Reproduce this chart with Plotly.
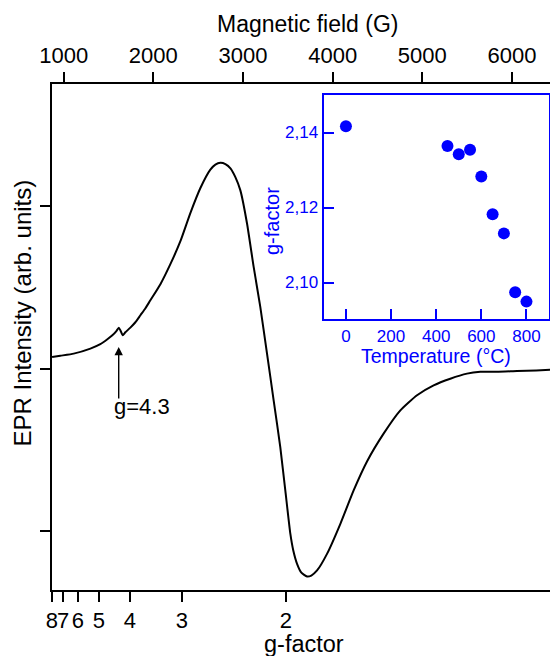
import plotly.graph_objects as go

# ---- EPR spectrum ----
field_G = [871, 963, 1112, 1298, 1409, 1484, 1543, 1588, 1615, 1632, 1658, 1688, 1744,
           1800, 1856, 1912, 1967, 2079, 2190, 2302, 2413, 2525, 2636, 2692, 2748, 2804,
           2860, 2915, 2970, 3045, 3119, 3193, 3268, 3342, 3416, 3472, 3528, 3561, 3603,
           3651, 3714, 3762, 3826, 3937, 4086, 4234, 4383, 4568, 4755, 4941, 5126, 5312,
           5498, 5647, 5833, 6056, 6271, 6502]
intensity = [0.071, 0.079, 0.092, 0.123, 0.150, 0.179, 0.205, 0.231, 0.251, 0.236, 0.205,
             0.223, 0.252, 0.285, 0.328, 0.371, 0.420, 0.519, 0.642, 0.783, 0.956, 1.110,
             1.223, 1.254, 1.265, 1.257, 1.231, 1.177, 1.097, 0.892, 0.625, 0.379, 0.092,
             -0.195, -0.483, -0.749, -1.015, -1.118, -1.200, -1.254, -1.278, -1.272, -1.241,
             -1.139, -0.954, -0.749, -0.571, -0.400, -0.257, -0.164, -0.103, -0.062, -0.031,
             -0.020, -0.020, -0.015, -0.011, -0.004]

# ---- axes ----
field_ticks = [1000, 2000, 3000, 4000, 5000, 6000]
field_labels = ["1000", "2000", "3000", "4000", "5000", "6000"]
g_ticks = [8, 7, 6, 5, 4, 3, 2]
g_labels = ["8", "7", "6", "5", "4", "3", "2"]
intensity_ticks = [-1, 0, 1]
freq_GHz = 9.74           # microwave frequency -> g = h*nu/(muB*B)
K = 714.477 * freq_GHz    # B[G] = K / g
g_pos = [K / g for g in g_ticks]

# ---- inset: g-factor vs temperature ----
temperature_C = [0, 450, 500, 550, 600, 650, 700, 750, 800]
g_factor = [2.1417, 2.1364, 2.1342, 2.1354, 2.1283, 2.1182, 2.1131, 2.0974, 2.0949]
inset_x_ticks = [0, 200, 400, 600, 800]
inset_y_ticks = [2.10, 2.12, 2.14]
inset_y_labels = ["2,10", "2,12", "2,14"]

# annotation: g=4.3 feature
g43_field = 1614
g43_int = 0.133
g43_text_field = 1874
g43_text_int = -0.236

BLUE = "#0000FF"
FONT = "Arial, Liberation Sans, sans-serif"

fig = go.Figure()
fig.add_trace(go.Scatter(x=field_G, y=intensity, mode="lines",
                         line=dict(color="black", width=2, shape="spline", smoothing=0.5),
                         xaxis="x", yaxis="y", showlegend=False, hoverinfo="skip"))
# invisible trace to activate bottom g-factor axis
fig.add_trace(go.Scatter(x=[field_G[0]], y=[intensity[0]], mode="markers",
                         marker=dict(opacity=0), xaxis="x2", yaxis="y",
                         showlegend=False, hoverinfo="skip"))
fig.add_trace(go.Scatter(x=temperature_C, y=g_factor, mode="markers",
                         marker=dict(color=BLUE, size=12),
                         xaxis="x3", yaxis="y3", showlegend=False))

x_range = [870, 6502]
# page body has an 8px default margin -> figure is 8px smaller and margins shifted
fig.update_layout(
    width=550, height=648,
    margin=dict(l=44, r=1, t=76, b=66),
    paper_bgcolor="white", plot_bgcolor="white",
    font=dict(family=FONT, color="black", size=22),
    xaxis=dict(side="top", range=x_range, tickvals=field_ticks, ticktext=field_labels,
               ticks="outside", ticklen=10, tickwidth=1.5, tickcolor="black",
               showline=True, linecolor="black", linewidth=2, showgrid=False, zeroline=False,
               tickfont=dict(size=22), tickangle=0, automargin=False, anchor="y"),
    xaxis2=dict(overlaying="x", side="bottom", range=x_range, tickvals=g_pos, ticktext=g_labels,
                ticks="outside", ticklen=10, tickwidth=1.5, tickcolor="black",
                showline=True, linecolor="black", linewidth=2, showgrid=False, zeroline=False,
                tickfont=dict(size=22), tickangle=0, automargin=False, anchor="y"),
    yaxis=dict(range=[-1.361, 1.7495], tickvals=intensity_ticks, showticklabels=False,
               ticks="outside", ticklen=10, tickwidth=1.5, tickcolor="black",
               showline=True, mirror=True, linecolor="black", linewidth=2,
               showgrid=False, zeroline=False, automargin=False),
    xaxis3=dict(domain=[0.5378, 0.9842], anchor="y3", range=[-99, 900],
                tickvals=inset_x_ticks, ticks="inside", ticklen=10, tickwidth=1.5,
                tickcolor=BLUE, showline=True, mirror=True, linecolor=BLUE, linewidth=2,
                showgrid=False, zeroline=False, tickangle=0, automargin=False,
                tickfont=dict(size=17, color=BLUE)),
    yaxis3=dict(domain=[0.5351, 0.9782], anchor="x3", range=[2.0902, 2.150],
                tickvals=inset_y_ticks, ticktext=inset_y_labels,
                ticks="inside", ticklen=10, tickwidth=1.5, tickcolor=BLUE,
                showline=True, mirror=True, linecolor=BLUE, linewidth=2,
                showgrid=False, zeroline=False, automargin=False,
                tickfont=dict(size=17, color=BLUE)),
    annotations=[
        # axis titles
        dict(x=0.507, y=1.1186, xref="paper", yref="paper", text="Magnetic field (G)",
             showarrow=False, font=dict(size=23), xanchor="center", yanchor="middle"),
        dict(x=0.499, y=-0.1060, xref="paper", yref="paper", text="g-factor",
             showarrow=False, font=dict(size=23.5), xanchor="center", yanchor="middle"),
        dict(x=-0.0584, y=0.5474, xref="paper", yref="paper", text="EPR Intensity (arb. units)",
             showarrow=False, font=dict(size=24), textangle=-90,
             xanchor="center", yanchor="middle"),
        dict(x=0.4356, y=0.7292, xref="paper", yref="paper", text="g-factor",
             showarrow=False, font=dict(size=20, color=BLUE), textangle=-90,
             xanchor="center", yanchor="middle"),
        dict(x=0.760, y=0.4630, xref="paper", yref="paper", text="Temperature (°C)",
             showarrow=False, font=dict(size=19.5, color=BLUE),
             xanchor="center", yanchor="middle"),
        # g=4.3 marker
        dict(x=g43_field, y=g43_int, xref="x", yref="y", text="", showarrow=True,
             ax=0, ay=53, arrowhead=2, arrowsize=1.2, arrowwidth=1.4, arrowcolor="black"),
        dict(x=g43_text_field, y=g43_text_int, xref="x", yref="y", text="g=4.3",
             showarrow=False, font=dict(size=22, color="black"),
             xanchor="center", yanchor="middle"),
    ],
)
fig.write_html("out.html")
